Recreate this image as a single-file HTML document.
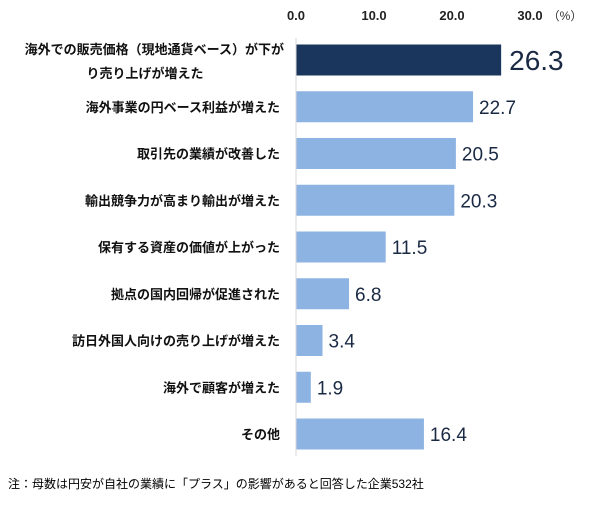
<!DOCTYPE html>
<html><head><meta charset="utf-8"><style>
body{margin:0;background:#fff;font-family:"Liberation Sans","Noto Sans CJK JP",sans-serif;}
svg text{font-family:"Liberation Sans","Noto Sans CJK JP",sans-serif;}
</style></head><body>
<svg width="600" height="500" viewBox="0 0 600 500">
<g id="ticks"></g><g id="bars"></g>
<line x1="296" y1="38" x2="296" y2="456" stroke="#d9d9d9" stroke-width="1"/>
<text x="565" y="20" font-size="12" fill="#333" text-anchor="middle">（%）</text>
<text x="8" y="488" font-size="12" fill="#000">注：母数は円安が自社の業績に「プラス」の影響があると回答した企業532社</text>
</svg>
<script>
const categories=[["海外での販売価格（現地通貨ベース）が下が","り売り上げが増えた"],["海外事業の円ベース利益が増えた"],["取引先の業績が改善した"],["輸出競争力が高まり輸出が増えた"],["保有する資産の価値が上がった"],["拠点の国内回帰が促進された"],["訪日外国人向けの売り上げが増えた"],["海外で顧客が増えた"],["その他"]];
const values=[26.3,22.7,20.5,20.3,11.5,6.8,3.4,1.9,16.4];
const tickValues=[0,10,20,30];
const tickLabels=["0.0","10.0","20.0","30.0"];
const NS="http://www.w3.org/2000/svg";
const x0=296,scale=7.8;
function xs(v){return x0+v*scale;}
function yc(i){return 60+i*46.75;}
const tg=document.getElementById('ticks');
tickValues.forEach((v,i)=>{const t=document.createElementNS(NS,'text');
t.setAttribute('x',xs(v));t.setAttribute('y',20);t.setAttribute('font-size','13');t.setAttribute('font-weight','bold');t.setAttribute('text-anchor','middle');t.setAttribute('fill','#222');t.textContent=tickLabels[i];


tg.appendChild(t);});
const bg=document.getElementById('bars');
values.forEach((v,i)=>{const r=document.createElementNS(NS,'rect');
const c=yc(i);
r.setAttribute('x',x0);r.setAttribute('y',c-15.5);r.setAttribute('width',v*scale);r.setAttribute('height',31);
r.setAttribute('fill',i===0?'#1a365d':'#8db3e2');


bg.appendChild(r);
const t=document.createElementNS(NS,'text');
t.setAttribute('x',xs(v)+(i===0?8:6));t.setAttribute('y',c+(i===0?10:7));
t.setAttribute('font-size',i===0?'28':'19');t.setAttribute('fill','#1a2a44');
t.textContent=v.toFixed(1);


bg.appendChild(t);
const lines=categories[i];
lines.forEach((ln,j)=>{const l=document.createElementNS(NS,'text');
const y=lines.length===1?c+5:c-5+j*24;
l.setAttribute('x',j===0&&lines.length>1?284:280);l.setAttribute('y',lines.length===1?y:c-11+j*24+5);
l.setAttribute('font-size','13');l.setAttribute('font-weight','bold');l.setAttribute('fill','#111');
if(lines.length>1&&j===1){l.setAttribute('text-anchor','middle');l.setAttribute('x',145);}
else l.setAttribute('text-anchor','end');
l.textContent=ln;


bg.appendChild(l);});
});
</script>
</body></html>
